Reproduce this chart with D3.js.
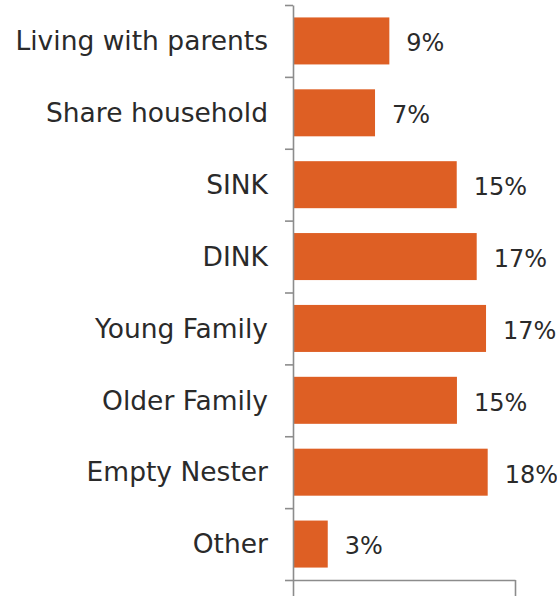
<!DOCTYPE html>
<html lang="en">
<head>
<meta charset="UTF-8">
<script src="https://d3js.org/d3.v7.min.js"></script>
<style>
  body { margin: 0; background: #fff; }
  text { font-family: "DejaVu Sans", sans-serif; fill: #2a2a2a; }
</style>
</head>
<body>
<div id="chart"></div>
<script>
// household types and their share
const categories = ["Living with parents", "Share household", "SINK", "DINK",
                    "Young Family", "Older Family", "Empty Nester", "Other"];
const shares = [0.0868, 0.0739, 0.1475, 0.1655, 0.1739, 0.1477, 0.1754, 0.0313];
const xTicks = [0, 0.2];

const W = 557, H = 596;
const plotLeft = 293, plotRight = 515, plotTop = 5, plotBottom = 580;

const svg = d3.select("#chart").append("svg")
    .attr("width", W).attr("height", H);

const x = d3.scaleLinear().domain([0, 0.2]).range([plotLeft, plotRight]);
const y = d3.scaleBand().domain(categories).range([plotTop, plotBottom])
    .paddingInner(0.346).paddingOuter(0.173);
// boundaries between categories, for the tick marks
const yEdge = d3.scaleLinear().domain([0, categories.length]).range([plotTop, plotBottom]);

svg.append("g")
    .selectAll("rect")
    .data(categories)
    .join("rect")
    .attr("x", x(0) + 1)
    .attr("y", d => y(d))
    .attr("width", (d, i) => x(shares[i]) - x(0) - 1)
    .attr("height", y.bandwidth())
    .attr("fill", "#de5f24");

svg.append("g")
    .attr("transform", "translate(" + plotLeft + ",0)")
    .call(d3.axisLeft(yEdge).tickValues(d3.range(categories.length + 1))
        .tickSize(8).tickSizeOuter(0).tickFormat(""));

svg.append("g")
    .attr("transform", "translate(0," + plotBottom + ")")
    .call(d3.axisBottom(x).tickValues(xTicks).tickSize(18).tickSizeOuter(0).tickFormat(""));

svg.selectAll(".domain, .tick line")
    .attr("stroke", "#8c8c8c")
    .attr("stroke-width", 1.6);

// category names
svg.append("g")
    .selectAll("text")
    .data(categories)
    .join("text")
    .attr("x", 268)
    .attr("y", d => y(d) + y.bandwidth() / 2)
    .attr("dy", "0.35em")
    .attr("text-anchor", "end")
    .style("font-size", "26.5px")
    .text(d => d);

// value labels
const fmt = d3.format(".0%");
svg.append("g")
    .selectAll("text")
    .data(shares)
    .join("text")
    .attr("x", d => x(d) + 17)
    .attr("y", (d, i) => y(categories[i]) + y.bandwidth() / 2 + 2)
    .attr("dy", "0.35em")
    .style("font-size", "24px")
    .text(d => fmt(d));
</script>
</body>
</html>
